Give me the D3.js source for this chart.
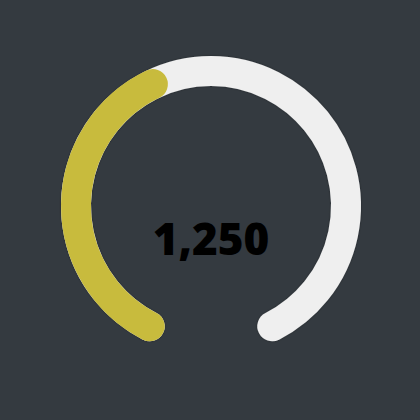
<html>
<head>
    <style>
        html, body {
            margin: 0;
            padding: 0;
            background: #343a40;
        }
    </style>
</head>
<body>
<svg width='420' height='420'></svg>
<script src='https://cdn.jsdelivr.net/npm/d3@7/dist/d3.min.js'></script>
<script>
    const gaugeMin = [0];
    const gaugeMax = [3000];
    const gaugeValue = [1250];

    const svg = d3.select('svg');
    const cx = 211, cy = 206;
    const midR = 135, thick = 30;
    const sweep = 153 * Math.PI / 180;

    const defs = svg.append('defs');
    const shadow = defs.append('filter').attr('id', 'shade')
        .attr('x', '-10%').attr('y', '-10%').attr('width', '120%').attr('height', '120%');
    shadow.append('feDropShadow')
        .attr('dx', 0).attr('dy', 0).attr('stdDeviation', 1.2)
        .attr('flood-color', '#000').attr('flood-opacity', 0.35);

    const angle = d3.scaleLinear()
        .domain([gaugeMin[0], gaugeMax[0]])
        .range([-sweep, sweep]);

    // open centre-line arc, stroked with round caps (angles from 12 o'clock)
    function band (v0, v1) {
        const p = d3.path();
        p.arc(0, 0, midR, angle(v0) - Math.PI / 2, angle(v1) - Math.PI / 2);
        return p.toString();
    }

    const g = svg.append('g').attr('transform', `translate(${cx},${cy})`);

    g.append('path')
        .attr('d', band(gaugeMin[0], gaugeMax[0]))
        .attr('fill', 'none')
        .attr('stroke', '#efefef')
        .attr('stroke-width', thick)
        .attr('stroke-linecap', 'round')
        .attr('filter', 'url(#shade)');

    g.append('path')
        .attr('d', band(gaugeMin[0], gaugeValue[0]))
        .attr('fill', 'none')
        .attr('stroke', '#c8bb3d')
        .attr('stroke-width', thick)
        .attr('stroke-linecap', 'round');

    g.append('text')
        .attr('x', 0)
        .attr('y', 49)
        .attr('text-anchor', 'middle')
        .attr('font-family', '"Open Sans", "Noto Sans", sans-serif')
        .attr('font-weight', 800)
        .attr('font-size', 44)
        .attr('fill', '#000')
        .text(d3.format(',')(gaugeValue[0]));
</script>
</body>
</html>
